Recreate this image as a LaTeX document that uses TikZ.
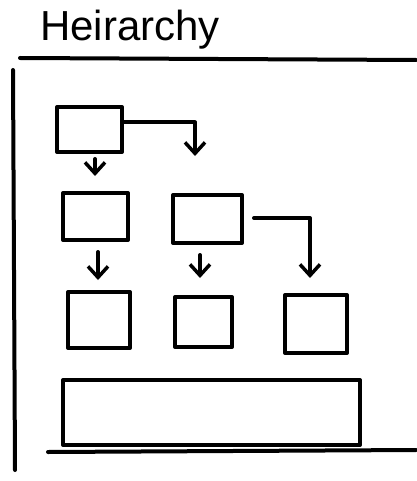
\documentclass[tikz,border=0pt]{standalone}
\usepackage{fontspec}
\setmainfont{Liberation Sans}
\usetikzlibrary{calc,arrows.meta}
\tikzset{
	pen/.style={line width=4pt, line cap=round, line join=round},
	box/.style={pen, draw, rectangle, inner sep=0pt},
	arr/.style={pen, -{Straight Barb[length=11pt, width=20pt, line width=3.5pt]}}
}

\begin{document}
\begin{tikzpicture}[x=1pt, y=-1pt]
		%%%%% START %%%%%
		\useasboundingbox[fill=white] (0, 0) rectangle (416, 481);
		
		\node[anchor=base west, inner sep=0pt, font=\fontsize{42}{42}\selectfont] (title) at (40, 41) {Heirarchy};
		
		\draw[pen] (20, 58) -- (416, 60);
		\draw[pen] (13, 70) -- (15, 470);
		\draw[pen] (48, 452) -- (416, 450);
		
		\node[box, minimum width=65pt, minimum height=45pt] (top) at (89.5, 129.5) {};
		\node[box, minimum width=65pt, minimum height=47pt] (midL) at (95.5, 216.5) {};
		\node[box, minimum width=69pt, minimum height=48pt] (midR) at (207.5, 219) {};
		\node[box, minimum width=62pt, minimum height=56pt] (lowL) at (99, 320) {};
		\node[box, minimum width=57pt, minimum height=50pt] (lowM) at (203.5, 322) {};
		\node[box, minimum width=62pt, minimum height=58pt] (lowR) at (316, 324) {};
		\node[box, minimum width=297pt, minimum height=65pt] (base) at (211.5, 412.5) {};
		
		\draw[arr] ([xshift=5.5pt, yshift=-5pt]top.south) -- ([xshift=-0.5pt, yshift=15pt]midL.north);
		\draw[arr] ([yshift=7pt]top.east) -| ([xshift=-12.5pt, yshift=37pt]midR.north);
		\draw[arr] ([xshift=2.5pt, yshift=-10pt]midL.south) -- ([xshift=-1pt, yshift=10pt]lowL.north);
		\draw[arr] ([xshift=-7.5pt, yshift=-10pt]midR.south) -- ([xshift=-3.5pt, yshift=17pt]lowM.north);
		\draw[arr] ([xshift=10pt, yshift=1pt]midR.east) -| ([xshift=-6pt, yshift=15pt]lowR.north);
		%%%%% END %%%%%
	\end{tikzpicture}
\end{document}
